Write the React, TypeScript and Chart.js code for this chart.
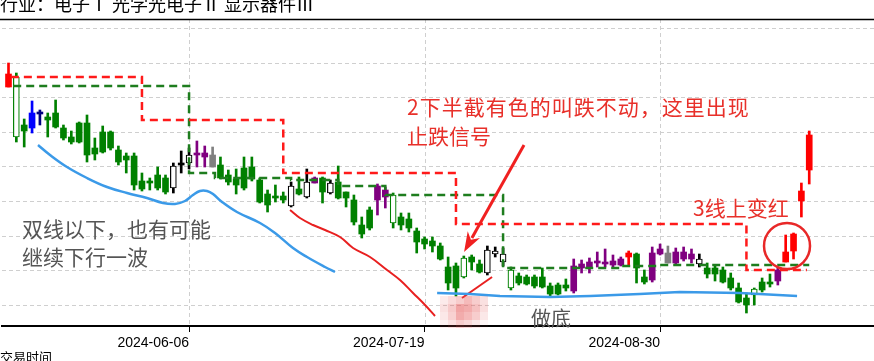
import { useEffect, useRef } from 'react';
import { Chart, registerables } from 'chart.js';

Chart.register(...registerables);

// ---- axis ticks ----
const tickIndex = [23, 53, 83];
const tickLabels = ['2024-06-06', '2024-07-19', '2024-08-30'];
const gridLevels = [2.52, 5.98, 9.44, 12.9, 16.36, 19.82, 23.28, 26.74, 30.2];

// ---- candles (one per trading day) ----
const opens = [
  24.3, 19.3, 20.5, 21.7, 21.8, 21.3, 21.7, 20.2, 19.3, 20.7,
  20.7, 18.2, 19.8, 19.8, 18.0, 17.4, 17.4, 14.9, 14.9, 15.5,
  15.2, 14.2, 16.7, 16.7, 17.7, 17.7, 17.5, 16.5, 15.5, 15.1,
  16.2, 16.3, 15.0, 13.6, 13.3, 13.4, 12.4, 14.1, 13.3, 15.2,
  15.2, 13.7, 14.8, 13.8, 13.0, 10.5, 12.0, 14.4, 14.0, 10.7,
  11.3, 11.1, 9.9, 9.1, 8.9, 8.4, 6.3, 6.4, 5.3, 7.3,
  6.6, 5.7, 7.6, 6.8, 4.2, 5.4, 5.3, 5.3, 5.3, 4.4,
  4.5, 4.5, 6.4, 6.6, 6.8, 6.9, 6.8, 6.9, 7.1, 7.3,
  7.6, 5.3, 7.7, 8.1, 7.7, 7.8, 7.8, 7.6, 6.6, 6.2,
  6.2, 6.0, 5.2, 4.2, 3.2, 3.5, 4.8, 4.7, 6.0, 6.8,
  7.9, 12.9, 16.0,
];
const highs = [
  26.7, 25.7, 21.1, 22.9, 22.0, 21.7, 23.0, 20.5, 19.9, 20.8,
  21.5, 19.2, 20.4, 19.9, 18.4, 17.7, 17.7, 15.7, 15.2, 16.3,
  15.5, 16.7, 17.9, 18.2, 18.9, 18.4, 18.3, 17.3, 16.0, 16.1,
  17.3, 17.3, 15.2, 14.0, 14.5, 13.8, 14.8, 15.3, 16.1, 15.3,
  15.3, 15.0, 16.4, 13.8, 13.5, 11.3, 12.3, 14.6, 14.3, 13.7,
  11.7, 11.7, 10.2, 9.3, 9.3, 8.7, 7.3, 6.7, 7.4, 7.5,
  7.0, 8.4, 8.3, 8.2, 6.3, 5.7, 5.5, 5.5, 6.2, 4.7,
  4.7, 5.1, 7.1, 7.0, 7.2, 7.8, 8.1, 7.5, 7.3, 7.9,
  7.7, 6.0, 8.3, 8.6, 8.4, 8.2, 8.3, 8.1, 7.6, 6.7,
  6.4, 6.3, 5.7, 4.7, 3.7, 4.2, 5.2, 5.6, 6.3, 9.5,
  9.7, 14.7, 19.9,
];
const lows = [
  24.3, 18.8, 18.3, 19.7, 20.5, 19.3, 20.2, 19.0, 18.6, 18.7,
  16.8, 17.0, 17.7, 18.0, 16.5, 15.7, 14.0, 13.9, 14.0, 14.0,
  13.6, 13.7, 15.7, 16.1, 16.3, 16.3, 16.3, 15.1, 14.5, 13.6,
  14.0, 14.9, 12.7, 11.8, 12.8, 12.7, 12.3, 13.5, 13.2, 14.7,
  12.7, 13.6, 13.1, 12.3, 10.5, 9.2, 10.0, 11.5, 12.2, 10.2,
  10.0, 9.8, 7.7, 8.1, 7.8, 7.0, 4.0, 3.4, 5.2, 6.0,
  5.7, 5.5, 7.3, 6.4, 4.0, 4.5, 4.5, 4.2, 4.2, 3.4,
  3.5, 3.9, 3.7, 5.7, 5.7, 6.3, 6.3, 6.3, 6.4, 6.5,
  4.7, 4.6, 4.8, 7.5, 6.7, 6.5, 6.9, 6.7, 6.3, 5.2,
  4.9, 4.7, 4.0, 2.7, 1.7, 2.5, 3.8, 4.3, 4.5, 6.8,
  7.1, 11.3, 14.6,
];
const closes = [
  25.6, 25.3, 19.9, 20.2, 21.6, 21.0, 20.3, 19.2, 18.8, 18.8,
  17.5, 17.6, 17.8, 18.2, 16.8, 17.0, 14.5, 14.1, 14.7, 14.2,
  13.8, 16.4, 16.5, 17.5, 17.5, 17.3, 16.3, 15.2, 14.8, 14.5,
  14.2, 15.1, 12.8, 12.5, 13.2, 13.0, 14.4, 13.6, 14.8, 14.7,
  13.8, 14.7, 13.2, 13.2, 10.8, 9.6, 10.2, 13.0, 13.3, 13.5,
  10.5, 10.2, 8.8, 8.6, 8.4, 7.1, 4.7, 4.2, 7.2, 6.8,
  5.8, 8.0, 7.9, 7.6, 6.0, 4.7, 4.6, 4.4, 4.3, 3.6,
  3.6, 4.2, 3.9, 6.2, 6.2, 6.7, 6.6, 6.5, 6.5, 7.7,
  6.2, 4.8, 5.0, 7.6, 6.7, 6.7, 7.1, 7.1, 7.1, 5.6,
  5.6, 4.8, 4.2, 2.8, 2.5, 4.1, 4.0, 4.6, 4.9, 7.8,
  9.6, 13.9, 19.5,
];
// candle tone: g green, r red, b blue, n navy, p purple, s grey, k black
const tones = (
  'rggbn' + 'gggggggggggggggg' + 'kkk' + 'pp' + 's' + 'ggggggggg' + 'k' + 'g' + 'k' + 'p' + 'g' + 'k' +
  'ggggg' + 'pp' + 'gggggggggggg' + 'kkk' + 'gggggggg' + 'ppppppp' + 'r' + 'gg' + 'pp' + 's' + 'ppp' +
  'k' + 'ggggggggg' + 'p' + 'rrrr'
).split('');

// ---- dashed step lines (level starts at index) ----
const redStepIdx = [0.3, 17, 35, 57, 94, 101.7];
const redStepLevel = [25.3, 21.0, 15.7, 10.6, 6.0, 6.0];
const greenStepIdx = [0.6, 23, 26.3, 36, 42, 48, 63, 78, 83, 102];
const greenStepLevel = [24.4, 15.7, 15.2, 15.0, 14.4, 13.5, 6.2, 6.4, 6.5, 6.5];

// ---- hand-drawn marks ----
const blueUpperIdx = [3.76, 5.29, 7.45, 10.0, 12.55, 15.1, 17.64, 19.68, 21.2, 22.48, 23.5, 24.39, 25.29, 26.05, 27.2, 29.1, 32.04, 33.95, 36.24, 38.03, 40.32, 41.59];
const blueUpperVal = [18.5, 17.5, 16.3, 15.2, 14.3, 13.7, 13.2, 12.7, 12.6, 12.9, 13.5, 13.9, 13.9, 13.6, 12.8, 11.8, 10.7, 9.7, 8.2, 7.3, 6.3, 5.8];
const blueLowerIdx = [54.6, 58.8, 62.6, 69.0, 74.1, 80.4, 85.5, 93.2, 100.45];
const blueLowerVal = [3.7, 3.6, 3.4, 3.3, 3.4, 3.6, 3.8, 3.7, 3.4];
const redCurveIdx = [35.86, 37.13, 38.79, 40.32, 42.23, 43.89, 46.05, 48.22, 49.87, 51.53, 53.06, 54.33];
const redCurveVal = [12.0, 11.2, 10.5, 10.0, 9.3, 8.2, 7.3, 6.0, 5.0, 3.7, 2.5, 1.4];
const redTickIdx = [57.77, 61.6];
const redTickVal = [3.2, 5.3];
const arrowFrom = [65.67, 18.5];
const arrowTo = [58.03, 7.8];
const circleAt = [99.17, 8.4];

const toneColor: Record<string, string> = {
  g: '#008000', r: '#ff0000', b: '#0000ff', n: '#000080', p: '#800080', s: '#808080', k: '#000000',
};

const pts = (xs: number[], ys: number[]) => xs.map((x, i) => ({ x, y: ys[i] }));

export default function App() {
  const ref = useRef<HTMLCanvasElement | null>(null);

  useEffect(() => {
    if (!ref.current) return;
    const idx = opens.map((_, i) => i);
    const hollow = (i: number) => closes[i] > opens[i] && tones[i] !== 'r';

    const gridPlugin = {
      id: 'dashGrid',
      beforeDatasetsDraw(chart: any) {
        const { ctx, chartArea: a, scales } = chart;
        ctx.save();
        ctx.strokeStyle = '#cfcfcf';
        ctx.lineWidth = 1;
        ctx.setLineDash([4, 3]);
        gridLevels.forEach((v) => {
          const y = Math.round(scales.y.getPixelForValue(v)) + 0.5;
          ctx.beginPath(); ctx.moveTo(a.left, y); ctx.lineTo(a.right, y); ctx.stroke();
        });
        tickIndex.forEach((v) => {
          const x = Math.round(scales.x.getPixelForValue(v)) + 0.5;
          ctx.beginPath(); ctx.moveTo(x, a.top); ctx.lineTo(x, a.bottom); ctx.stroke();
        });
        ctx.setLineDash([]);
        ctx.strokeStyle = '#000';
        ctx.lineWidth = 1.5;
        ctx.beginPath(); ctx.moveTo(0, 19.5); ctx.lineTo(874, 19.5); ctx.stroke();
        ctx.restore();
      },
    };

    const notesPlugin = {
      id: 'notes',
      afterDatasetsDraw(chart: any) {
        const { ctx, scales } = chart;
        const X = (v: number) => scales.x.getPixelForValue(v);
        const Y = (v: number) => scales.y.getPixelForValue(v);
        ctx.save();
        // pixelated blur patch
        const cells = [
          [0.12, 0.22, 0.3, 0.42, 0.3, 0.18],
          [0.18, 0.32, 0.55, 0.5, 0.38, 0.2],
          [0.14, 0.28, 0.5, 0.42, 0.3, 0.14],
          [0.08, 0.18, 0.3, 0.24, 0.14, 0.05],
        ];
        cells.forEach((row, r) => row.forEach((al, c) => {
          ctx.fillStyle = `rgba(230,90,90,${al})`;
          ctx.fillRect(440 + c * 8, 296 + r * 8, 8, 8);
        }));
        // arrow
        const x1 = X(arrowFrom[0]), y1 = Y(arrowFrom[1]);
        const x2 = X(arrowTo[0]), y2 = Y(arrowTo[1]);
        const len = Math.hypot(x2 - x1, y2 - y1);
        const ux = (x2 - x1) / len, uy = (y2 - y1) / len;
        const hl = 20, hw = 7;
        ctx.strokeStyle = '#f02020';
        ctx.fillStyle = '#f02020';
        ctx.lineWidth = 3;
        ctx.beginPath(); ctx.moveTo(x1, y1); ctx.lineTo(x2 - ux * hl * 0.8, y2 - uy * hl * 0.8); ctx.stroke();
        ctx.beginPath();
        ctx.moveTo(x2, y2);
        ctx.lineTo(x2 - ux * hl - uy * hw, y2 - uy * hl + ux * hw);
        ctx.lineTo(x2 - ux * hl * 0.7, y2 - uy * hl * 0.7);
        ctx.lineTo(x2 - ux * hl + uy * hw, y2 - uy * hl - ux * hw);
        ctx.closePath(); ctx.fill();
        // circle
        ctx.lineWidth = 2.5;
        ctx.strokeStyle = '#e82828';
        ctx.beginPath(); ctx.arc(X(circleAt[0]), Y(circleAt[1]), 23, 0, Math.PI * 2); ctx.stroke();
        // texts
        ctx.textBaseline = 'middle';
        ctx.textAlign = 'left';
        ctx.font = '21px "Noto Sans CJK SC"';
        ctx.fillStyle = '#e8302a';
        (ctx as any).letterSpacing = '1px';
        ctx.fillText('2下半截有色的叫跌不动，这里出现', 407, 107);
        (ctx as any).letterSpacing = '0px';
        ctx.fillText('止跌信号', 407, 136);
        ctx.fillText('3线上变红', 693, 208);
        ctx.fillStyle = '#555555';
        ctx.fillText('双线以下，也有可能', 22, 229);
        ctx.fillText('继续下行一波', 22, 257);
        ctx.font = '20px "Noto Sans CJK SC"';
        ctx.fillText('做底', 531, 318);
        ctx.restore();
      },
      afterDraw(chart: any) {
        const { ctx } = chart;
        ctx.save();
        ctx.fillStyle = '#000';
        ctx.textAlign = 'left';
        ctx.textBaseline = 'alphabetic';
        ctx.font = '18px "Noto Sans CJK SC"';
        ctx.fillText('行业：电子Ⅰ 光学光电子Ⅱ 显示器件Ⅲ', 0, 11);
        ctx.font = '13px "Noto Sans CJK SC"';
        ctx.textBaseline = 'top';
        ctx.fillText('交易时间', 0, 351);
        ctx.restore();
      },
    };

    const chart = new Chart(ref.current, {
      type: 'bar',
      data: {
        datasets: [
          {
            type: 'line', label: 'blueUpper', data: pts(blueUpperIdx, blueUpperVal),
            borderColor: '#3b9ae8', borderWidth: 2.5, pointRadius: 0, tension: 0.4, order: -3,
          } as any,
          {
            type: 'line', label: 'blueLower', data: pts(blueLowerIdx, blueLowerVal),
            borderColor: '#3b9ae8', borderWidth: 2.5, pointRadius: 0, tension: 0, order: -3,
          },
          {
            type: 'line', label: 'redCurve', data: pts(redCurveIdx, redCurveVal),
            borderColor: '#e82020', borderWidth: 2, pointRadius: 0, tension: 0.4, order: -3,
          },
          {
            type: 'line', label: 'redTick', data: pts(redTickIdx, redTickVal),
            borderColor: '#e82020', borderWidth: 2, pointRadius: 0, order: -3,
          },
          {
            type: 'line', label: 'redStep', data: pts(redStepIdx, redStepLevel), stepped: true,
            borderColor: '#ff1a1a', borderWidth: 2.5, borderDash: [8, 5], pointRadius: 0, order: -2,
          },
          {
            type: 'line', label: 'greenStep', data: pts(greenStepIdx, greenStepLevel), stepped: true,
            borderColor: '#1e7d1e', borderWidth: 2.5, borderDash: [8, 5], pointRadius: 0, order: -1,
          },
          {
            type: 'bar', label: 'body',
            data: idx.map((i) => ({ x: i, y: [opens[i], closes[i]] })) as any,
            backgroundColor: idx.map((i) => (hollow(i) ? '#ffffff' : toneColor[tones[i]])),
            borderColor: idx.map((i) => toneColor[tones[i]]),
            borderWidth: idx.map((i) => (hollow(i) ? 1.2 : 0)),
            borderSkipped: false, barThickness: 6, minBarLength: 2, grouped: false, order: 1,
          } as any,
          {
            type: 'bar', label: 'wick',
            data: idx.map((i) => ({ x: i, y: [lows[i], highs[i]] })) as any,
            backgroundColor: idx.map((i) => toneColor[tones[i]]),
            borderWidth: 0, barThickness: 2, grouped: false, order: 2,
          } as any,
        ],
      },
      options: {
        animation: false,
        responsive: true,
        maintainAspectRatio: false,
        layout: { padding: { top: 19, left: 2, right: 0, bottom: 0 } },
        plugins: { legend: { display: false }, tooltip: { enabled: false }, title: { display: false } },
        scales: {
          x: {
            type: 'linear', min: -0.828, max: 110.25, offset: false,
            afterBuildTicks: (s: any) => { s.ticks = tickIndex.map((v) => ({ value: v })); },
            afterFit: (s: any) => { s.height = 35; },
            ticks: {
              autoSkip: false, maxRotation: 0, align: 'end', padding: 3, color: '#000',
              font: { size: 14, family: 'Liberation Sans' },
              callback: (v: any) => tickLabels[tickIndex.indexOf(Number(v))] ?? '',
            },
            grid: { offset: false, drawOnChartArea: false, drawTicks: true, tickLength: 6, tickColor: '#000', tickWidth: 1 },
            border: { display: true, color: '#000', width: 2 },
          },
          y: { type: 'linear', display: false, min: 0.4, max: 31.1 },
        },
      } as any,
      plugins: [gridPlugin, notesPlugin],
    });
    return () => chart.destroy();
  }, []);

  return (
    <div style={{ position: 'absolute', left: 0, top: 0, width: 874, height: 361, background: '#fff' }}>
      <canvas ref={ref} />
    </div>
  );
}
